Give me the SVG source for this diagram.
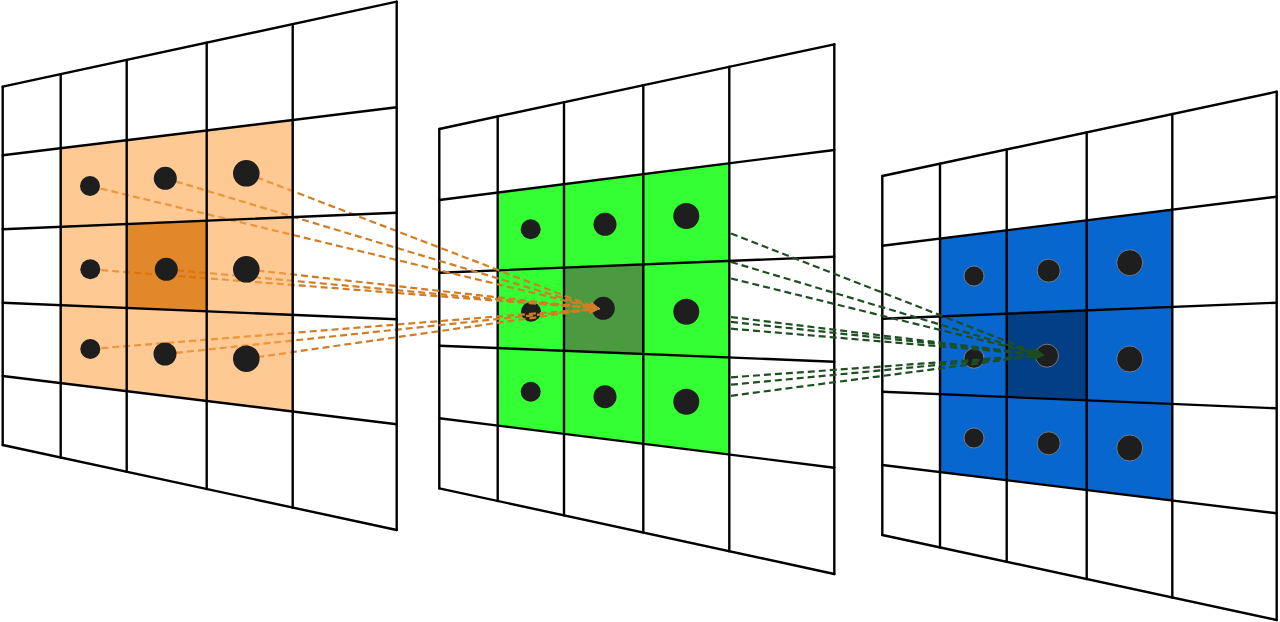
<svg xmlns="http://www.w3.org/2000/svg" width="1280" height="622" viewBox="0 0 1280 622">
<style>
.grid line{stroke:#000;stroke-width:2.4;stroke-linecap:round}
.dot{fill:#1e1e1e}
.dotb{fill:#1e1e1e;stroke:#8a8a8a;stroke-width:0.8}
.co{fill:none;stroke:#d07d26;stroke-width:2.2;stroke-dasharray:7 4;marker-end:url(#ao)}
.cg{fill:none;stroke:#1d4f20;stroke-width:2.2;stroke-dasharray:7 4;marker-end:url(#ag)}
</style>
<defs>
<marker id="ao" markerUnits="userSpaceOnUse" markerWidth="12" markerHeight="10" refX="10" refY="4" orient="auto">
<path d="M1,0.5 L10,4 L1,7.5" fill="none" stroke="#d07d26" stroke-width="1.8"/>
</marker>
<marker id="ag" markerUnits="userSpaceOnUse" markerWidth="12" markerHeight="10" refX="10" refY="4" orient="auto">
<path d="M1,0.5 L10,4 L1,7.5" fill="none" stroke="#1d4f20" stroke-width="1.8"/>
</marker>
</defs>
<rect width="1280" height="622" fill="#fff"/>

<g id="layer-2">
<path d="M497.7,192.6 L729.3,163.3 L729.3,454.6 L497.7,425.6 Z" fill="#33ff33"/>
<path d="M564,267.65 L643.3,264.4 L643.3,353.96 L564,350.75 Z" fill="#4c9a40"/>
<g class="grid">
<line x1="439.3" y1="129" x2="834.3" y2="44.3"/>
<line x1="439.3" y1="200" x2="834.3" y2="150"/>
<line x1="439.3" y1="272.7" x2="834.3" y2="256.7"/>
<line x1="439.3" y1="345.7" x2="834.3" y2="361.7"/>
<line x1="439.3" y1="418.3" x2="834.3" y2="467.7"/>
<line x1="439.3" y1="488.3" x2="834.3" y2="574"/>
<line x1="439.3" y1="129" x2="439.3" y2="488.3"/>
<line x1="497.7" y1="116.5" x2="497.7" y2="501"/>
<line x1="564" y1="102.3" x2="564" y2="515.4"/>
<line x1="643.3" y1="85.25" x2="643.3" y2="532.6"/>
<line x1="729.3" y1="66.8" x2="729.3" y2="551.2"/>
<line x1="834.3" y1="44.3" x2="834.3" y2="574"/>
</g>
<circle class="dot" cx="530.7" cy="229.3" r="10"/>
<circle class="dot" cx="605" cy="224.3" r="11.5"/>
<circle class="dot" cx="686.3" cy="216" r="13"/>
<circle class="dot" cx="531" cy="311.7" r="10"/>
<circle class="dot" cx="603.3" cy="308.3" r="11.5"/>
<circle class="dot" cx="686.3" cy="311.7" r="13"/>
<circle class="dot" cx="530.7" cy="391.7" r="10"/>
<circle class="dot" cx="605" cy="396.7" r="11.5"/>
<circle class="dot" cx="686.3" cy="401.7" r="13"/>
</g>

<g id="layer-3">
<path d="M940,238.5 L1172.3,209.7 L1172.3,500.5 L940,472.1 Z" fill="#0866cf"/>
<path d="M1006.7,313.65 L1086.7,310.4 L1086.7,400.3 L1006.7,396.9 Z" fill="#033f86"/>
<g class="grid">
<line x1="882.3" y1="176" x2="1276.7" y2="91.7"/>
<line x1="882.3" y1="245.7" x2="1276.7" y2="196.7"/>
<line x1="882.3" y1="318.7" x2="1276.7" y2="302.7"/>
<line x1="882.3" y1="391.7" x2="1276.7" y2="408.3"/>
<line x1="882.3" y1="465" x2="1276.7" y2="513.3"/>
<line x1="882.3" y1="535" x2="1276.7" y2="620"/>
<line x1="882.3" y1="176" x2="882.3" y2="535"/>
<line x1="940" y1="163.7" x2="940" y2="547.4"/>
<line x1="1006.7" y1="149.4" x2="1006.7" y2="561.8"/>
<line x1="1086.7" y1="132.3" x2="1086.7" y2="579.1"/>
<line x1="1172.3" y1="114" x2="1172.3" y2="597.5"/>
<line x1="1276.7" y1="91.7" x2="1276.7" y2="620"/>
</g>
<circle class="dotb" cx="974" cy="276" r="10"/>
<circle class="dotb" cx="1048.7" cy="270.7" r="11.5"/>
<circle class="dotb" cx="1129.7" cy="262.7" r="13"/>
<circle class="dotb" cx="974" cy="358.3" r="10"/>
<circle class="dotb" cx="1047" cy="355.7" r="11.5"/>
<circle class="dotb" cx="1129.7" cy="359" r="13"/>
<circle class="dotb" cx="974" cy="438" r="10"/>
<circle class="dotb" cx="1048.7" cy="443.3" r="11.5"/>
<circle class="dotb" cx="1129.7" cy="448" r="13"/>
</g>

<g id="connectors">
<line class="co" x1="90" y1="186" x2="598" y2="308.5"/>
<line class="co" x1="165.3" y1="178.3" x2="598" y2="308.5"/>
<line class="co" x1="246.3" y1="173.3" x2="598" y2="308.5"/>
<line class="co" x1="90.3" y1="269.3" x2="598" y2="308.5"/>
<line class="co" x1="166.3" y1="269.3" x2="598" y2="308.5"/>
<line class="co" x1="246.3" y1="269.3" x2="598" y2="308.5"/>
<line class="co" x1="90.3" y1="349" x2="598" y2="308.5"/>
<line class="co" x1="165" y1="354" x2="598" y2="308.5"/>
<line class="co" x1="246.3" y1="358.7" x2="598" y2="308.5"/>
<line class="cg" x1="731" y1="278.5" x2="1042" y2="355"/>
<line class="cg" x1="731" y1="262" x2="1042" y2="355"/>
<line class="cg" x1="731" y1="233.5" x2="1042" y2="355"/>
<line class="cg" x1="731" y1="328.7" x2="1042" y2="355"/>
<line class="cg" x1="731" y1="321.9" x2="1042" y2="355"/>
<line class="cg" x1="731" y1="317.1" x2="1042" y2="355"/>
<line class="cg" x1="731" y1="377.3" x2="1042" y2="355"/>
<line class="cg" x1="731" y1="384.7" x2="1042" y2="355"/>
<line class="cg" x1="731" y1="395.8" x2="1042" y2="355"/>
</g>

<g id="layer-1">
<path d="M60.7,148.2 L292.7,120 L292.7,411.6 L60.7,383.1 Z M126.7,224.1 L206.7,220.7 L206.7,311.3 L126.7,307.9 Z" fill="#ffa54d" fill-opacity="0.6" fill-rule="evenodd"/>
<path d="M126.7,224.1 L206.7,220.7 L206.7,311.3 L126.7,307.9 Z" fill="#dd7306" fill-opacity="0.85"/>
<g class="grid">
<line x1="2.7" y1="86.7" x2="396.7" y2="1.7"/>
<line x1="2.7" y1="155.3" x2="396.7" y2="107.3"/>
<line x1="2.7" y1="229.3" x2="396.7" y2="212.7"/>
<line x1="2.7" y1="302.7" x2="396.7" y2="319.3"/>
<line x1="2.7" y1="376" x2="396.7" y2="424.3"/>
<line x1="2.7" y1="445" x2="396.7" y2="530"/>
<line x1="2.7" y1="86.7" x2="2.7" y2="445"/>
<line x1="60.7" y1="74.2" x2="60.7" y2="457.5"/>
<line x1="126.7" y1="59.95" x2="126.7" y2="471.75"/>
<line x1="206.7" y1="42.7" x2="206.7" y2="489"/>
<line x1="292.7" y1="24.1" x2="292.7" y2="507.6"/>
<line x1="396.7" y1="1.7" x2="396.7" y2="530"/>
</g>
<circle class="dot" cx="90" cy="186" r="10"/>
<circle class="dot" cx="165.3" cy="178.3" r="11.5"/>
<circle class="dot" cx="246.3" cy="173.3" r="13.3"/>
<circle class="dot" cx="90.3" cy="269.3" r="10"/>
<circle class="dot" cx="166.3" cy="269.3" r="11.5"/>
<circle class="dot" cx="246.3" cy="269.3" r="13.3"/>
<circle class="dot" cx="90.3" cy="349" r="10"/>
<circle class="dot" cx="165" cy="354" r="11.5"/>
<circle class="dot" cx="246.3" cy="358.7" r="13.3"/>
</g>
</svg>
